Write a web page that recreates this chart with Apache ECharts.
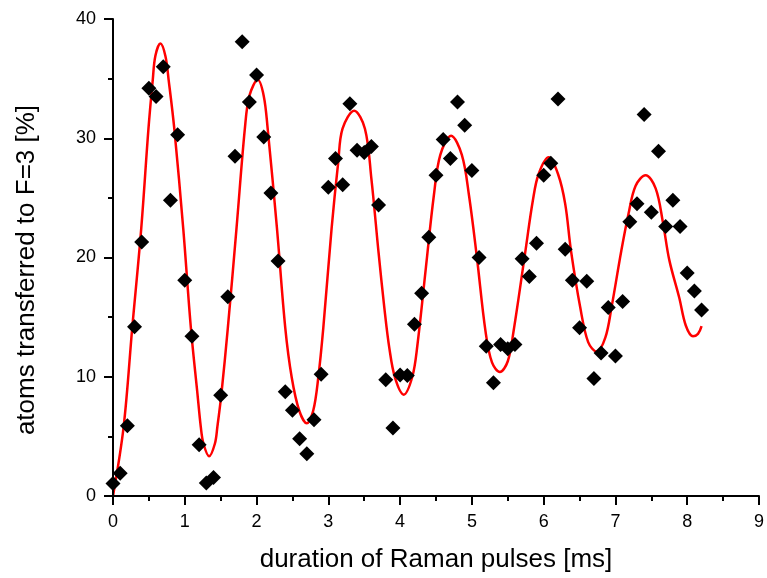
<!DOCTYPE html>
<html>
<head>
<meta charset="utf-8">
<script src="https://cdn.jsdelivr.net/npm/echarts@6/dist/echarts.min.js"></script>
<style>
  html, body { margin: 0; padding: 0; background: #fff; }
  #chart { width: 767px; height: 578px; }
</style>
</head>
<body>
<div id="chart"></div>
<script>
// Pulse duration (ms) of each measurement
var durations = [
  0.0, 0.1, 0.2, 0.3, 0.4, 0.5, 0.6, 0.7, 0.8, 0.9,
  1.0, 1.1, 1.2, 1.3, 1.4, 1.5, 1.6, 1.7, 1.8, 1.9,
  2.0, 2.1, 2.2, 2.3, 2.4, 2.5, 2.6, 2.7, 2.8, 2.9,
  3.0, 3.1, 3.2, 3.3, 3.4, 3.5, 3.6, 3.7, 3.8, 3.9,
  4.0, 4.1, 4.2, 4.3, 4.4, 4.5, 4.6, 4.7, 4.8, 4.9,
  5.0, 5.1, 5.2, 5.3, 5.4, 5.5, 5.6, 5.7, 5.8, 5.9,
  6.0, 6.1, 6.2, 6.3, 6.4, 6.5, 6.6, 6.7, 6.8, 6.9,
  7.0, 7.1, 7.2, 7.3, 7.4, 7.5, 7.6, 7.7, 7.8, 7.9,
  8.0, 8.1, 8.2
];
// Measured fraction of atoms transferred to F=3 (%)
var transferred = [
  1.05, 1.9, 5.9, 14.2, 21.3, 34.2, 33.5, 36.0, 24.8, 30.3,
  18.1, 13.4, 4.3, 1.1, 1.55, 8.45, 16.7, 28.5, 38.1, 33.05,
  35.3, 30.1, 25.4, 19.7, 8.75, 7.2, 4.8, 3.55, 6.4, 10.2,
  25.9, 28.3, 26.1, 32.9, 29.0, 28.8, 29.3, 24.4, 9.75, 5.7,
  10.15, 10.1, 14.4, 17.0, 21.7, 26.9, 29.9, 28.3, 33.05, 31.1,
  27.3, 20.0, 12.55, 9.5, 12.7, 12.35, 12.7, 19.9, 18.4, 21.2,
  26.9, 27.9, 33.3, 20.7, 18.1, 14.1, 18.0, 9.85, 12.0, 15.8,
  11.75, 16.3, 23.0, 24.5, 32.0, 23.8, 28.9, 22.6, 24.8, 22.6,
  18.7, 17.2, 15.6
];
// Damped Rabi oscillation fit, sampled along the curve
var fitT = [
  0.000, 0.148, 0.268, 0.393, 0.494, 0.554, 0.590, 0.660, 0.730, 0.775,
  0.854, 0.979, 1.085, 1.177, 1.223, 1.260, 1.339, 1.420, 1.454, 1.510,
  1.600, 1.720, 1.837, 1.900, 2.017, 2.100, 2.155, 2.285, 2.400, 2.490,
  2.594, 2.700, 2.790, 2.860, 2.930, 3.045, 3.138, 3.198, 3.360, 3.510,
  3.600, 3.700, 3.780, 3.850, 3.930, 4.050, 4.170, 4.240, 4.360, 4.470,
  4.560, 4.710, 4.860, 4.960, 5.070, 5.190, 5.280, 5.390, 5.500, 5.580,
  5.740, 5.850, 5.930, 6.070, 6.200, 6.300, 6.380, 6.510, 6.620, 6.740,
  6.860, 6.945, 7.080, 7.180, 7.280, 7.420, 7.560, 7.660, 7.750, 7.890,
  7.980, 8.080, 8.150, 8.200
];
var fitY = [
  0.00, 5.80, 14.10, 22.40, 30.80, 34.90, 36.90, 37.94, 36.90, 34.90,
  30.80, 22.40, 14.10, 8.55, 5.80, 4.40, 3.33, 4.40, 5.80, 8.55,
  14.10, 22.40, 30.80, 33.55, 34.90, 33.55, 30.80, 22.40, 14.10, 9.94,
  7.17, 6.10, 7.17, 9.94, 14.10, 22.40, 28.00, 30.80, 32.30, 30.80,
  26.60, 20.40, 15.80, 12.40, 9.90, 8.50, 10.00, 12.60, 19.20, 25.20,
  28.60, 30.20, 28.60, 25.20, 20.00, 13.80, 11.20, 10.40, 11.30, 13.80,
  20.30, 24.80, 27.00, 28.40, 27.00, 24.50, 20.60, 15.80, 12.90, 12.10,
  13.30, 15.80, 20.50, 23.60, 26.00, 26.90, 25.80, 23.00, 19.80, 16.60,
  14.30, 13.40, 13.60, 14.25
];

var xTicks = [0, 9, 1];
var yTicks = [0, 40, 10];

var points = durations.map(function (t, i) { return [t, transferred[i]]; });
var fitLine = fitT.map(function (t, i) { return [t, fitY[i]]; });

var fontFamily = '"Liberation Sans", Arial, sans-serif';

var chart = echarts.init(document.getElementById('chart'));

function axisCommon(ticks, labelMargin) {
  return {
    type: 'value',
    z: 5,
    min: ticks[0],
    max: ticks[1],
    interval: ticks[2],
    axisLine: { show: true, onZero: false, lineStyle: { color: '#000', width: 2 } },
    axisTick: { show: true, length: 9, lineStyle: { color: '#000', width: 2 } },
    minorTick: { show: true, splitNumber: 2, length: 5, lineStyle: { color: '#000', width: 2 } },
    splitLine: { show: false },
    axisLabel: { color: '#000', fontSize: 18, fontFamily: fontFamily, margin: labelMargin }
  };
}

var xAxis = axisCommon(xTicks, 17);
xAxis.name = 'duration of Raman pulses [ms]';
xAxis.nameLocation = 'middle';
xAxis.nameGap = 51;
xAxis.nameTextStyle = { color: '#000', fontSize: 26, fontFamily: fontFamily };

var yAxis = axisCommon(yTicks, 17);

chart.setOption({
  animation: false,
  grid: { left: 113, right: 4, top: 19, bottom: 79 },
  xAxis: xAxis,
  yAxis: yAxis,
  graphic: [{
    type: 'text',
    x: 27,
    y: 270,
    rotation: Math.PI / 2,
    style: {
      text: 'atoms transferred to F=3 [%]',
      fill: '#000',
      font: '26px ' + fontFamily,
      textAlign: 'center',
      textVerticalAlign: 'middle'
    }
  }],
  series: [
    {
      type: 'line',
      data: fitLine,
      smooth: 0.35,
      showSymbol: false,
      symbol: 'none',
      lineStyle: { color: '#ff0000', width: 2.5 },
      z: 2
    },
    {
      type: 'scatter',
      data: points,
      symbol: 'diamond',
      symbolSize: 15,
      itemStyle: { color: '#000', opacity: 1 },
      z: 3
    }
  ]
});
</script>
</body>
</html>
